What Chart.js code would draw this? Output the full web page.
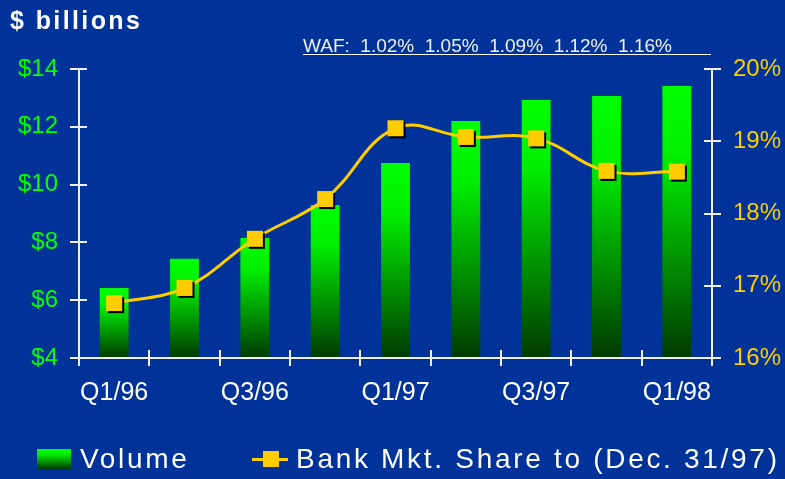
<!DOCTYPE html>
<html>
<head>
<meta charset="utf-8">
<script src="https://cdn.jsdelivr.net/npm/chart.js@4"></script>
<style>
  body { margin: 0; background: #003399; overflow: hidden; }
  #wrap { position: relative; width: 785px; height: 479px; font-family: "Liberation Sans", Arial, sans-serif; }
  #chart { position: absolute; left: 0; top: 0; }
  .txt { position: absolute; color: #fff; white-space: pre; }
  #title { left: 10px; top: 8px; font-size: 25px; line-height: 25px; font-weight: bold; letter-spacing: 2.4px; }
  #waf { left: 303px; top: 37px; width: 408px; font-size: 19px; line-height: 17px; border-bottom: 1px solid #fff; color: #f0f0f0; }
  .leg { top: 444px; font-size: 28px; line-height: 30px; letter-spacing: 2.7px; }
  #volBox { position: absolute; left: 37px; top: 449px; width: 34px; height: 20px; background: linear-gradient(#00ff00 0%, #00f000 25%, #003a00 100%); }
  #lineSym { position: absolute; left: 252px; top: 458px; width: 36px; height: 3px; background: #ffcc00; }
  #sqSym { position: absolute; left: 263px; top: 451px; width: 16px; height: 16px; background: #ffcc00; }
</style>
</head>
<body>
<div id="wrap">
  <canvas id="chart" width="785" height="479"></canvas>
  <div class="txt" id="title">$ billions</div>
  <div class="txt" id="waf">WAF:  1.02%  1.05%  1.09%  1.12%  1.16%</div>
  <div id="volBox"></div>
  <div class="txt leg" style="left:80px">Volume</div>
  <div id="lineSym"></div>
  <div id="sqSym"></div>
  <div class="txt leg" style="left:296px">Bank Mkt. Share to (Dec. 31/97)</div>
</div>
<script>
var quarters = ['Q1/96', 'Q2/96', 'Q3/96', 'Q4/96', 'Q1/97', 'Q2/97', 'Q3/97', 'Q4/97', 'Q1/98'];
var volume = [6.42, 7.43, 8.15, 9.29, 10.75, 12.2, 12.93, 13.07, 13.41];
var marketShare = [16.76, 16.97, 17.65, 18.2, 19.18, 19.06, 19.04, 18.59, 18.58];

// square marker with a black drop shadow
var marker = document.createElement('canvas');
marker.width = 24;
marker.height = 24;
var mctx = marker.getContext('2d');
mctx.fillStyle = '#000';
mctx.fillRect(6, 6, 16, 16);
mctx.fillStyle = '#ffcc00';
mctx.fillRect(4, 4, 16, 16);

function barGradient(c) {
  var chart = c.chart;
  if (!chart.chartArea || c.raw === undefined) return '#00ff00';
  var y = chart.scales.y;
  var top = y.getPixelForValue(c.raw);
  var g = chart.ctx.createLinearGradient(0, top, 0, y.bottom);
  g.addColorStop(0, '#00ff00');
  g.addColorStop(0.25, '#00f000');
  g.addColorStop(1, '#003a00');
  return g;
}

// tick marks crossing the axis lines
var crossTicks = {
  id: 'crossTicks',
  afterDraw: function(chart) {
    var ctx = chart.ctx;
    var s = chart.scales;
    ctx.save();
    ctx.strokeStyle = '#f0f0f0';
    ctx.lineWidth = 2;
    ctx.beginPath();
    s.y.ticks.forEach(function(t) {
      var py = Math.round(s.y.getPixelForValue(t.value));
      ctx.moveTo(s.y.right - 9, py);
      ctx.lineTo(s.y.right + 8, py);
    });
    s.y1.ticks.forEach(function(t) {
      var py = Math.round(s.y1.getPixelForValue(t.value));
      ctx.moveTo(s.y1.left - 8, py);
      ctx.lineTo(s.y1.left + 9, py);
    });
    var step = s.x.getPixelForValue(1) - s.x.getPixelForValue(0);
    for (var i = 0; i <= quarters.length; i++) {
      var px = Math.round(s.x.getPixelForValue(i) - step / 2);
      ctx.moveTo(px, s.x.top - 8);
      ctx.lineTo(px, s.x.top + 8);
    }
    ctx.moveTo(s.y.right - 9, s.x.top);
    ctx.lineTo(s.y1.left + 9, s.x.top);
    ctx.stroke();
    ctx.restore();
  }
};

var ctx = document.getElementById('chart').getContext('2d');
var chart = new Chart(ctx, {
  type: 'bar',
  data: {
    labels: quarters,
    datasets: [
      {
        type: 'line',
        label: 'Bank Mkt. Share to (Dec. 31/97)',
        data: marketShare,
        yAxisID: 'y1',
        borderColor: '#ffcc00',
        borderWidth: 3,
        tension: 0.4,
        pointStyle: marker,
        pointRadius: 8,
        order: 0
      },
      {
        label: 'Volume',
        data: volume,
        yAxisID: 'y',
        backgroundColor: barGradient,
        categoryPercentage: 1,
        barPercentage: 0.41,
        order: 1
      }
    ]
  },
  options: {
    responsive: false,
    animation: false,
    layout: { padding: { top: 69 } },
    plugins: {
      legend: { display: false },
      tooltip: { enabled: false }
    },
    scales: {
      x: {
        afterFit: function(s) { s.height = 121; },
        grid: { display: false },
        border: { display: false },
        ticks: {
          color: '#ffffff',
          font: { family: 'Liberation Sans', size: 25 },
          padding: 12,
          maxRotation: 0,
          autoSkip: false,
          callback: function(v, i) { return i % 2 === 0 ? quarters[i] : ''; }
        }
      },
      y: {
        position: 'left',
        min: 4,
        max: 14,
        afterFit: function(s) { s.width = 79; },
        grid: { drawOnChartArea: false, drawTicks: false },
        border: { color: '#f0f0f0', width: 2 },
        ticks: {
          stepSize: 2,
          color: '#00ff00',
          font: { family: 'Liberation Sans', size: 24 },
          padding: 21,
          callback: function(v) { return '$' + v; }
        }
      },
      y1: {
        position: 'right',
        min: 16,
        max: 20,
        afterFit: function(s) { s.width = 73; },
        grid: { drawOnChartArea: false, drawTicks: false },
        border: { color: '#f0f0f0', width: 2 },
        ticks: {
          stepSize: 1,
          color: '#ffcc00',
          font: { family: 'Liberation Sans', size: 24 },
          padding: 21,
          callback: function(v) { return v + '%'; }
        }
      }
    }
  },
  plugins: [crossTicks]
});
</script>
</body>
</html>
